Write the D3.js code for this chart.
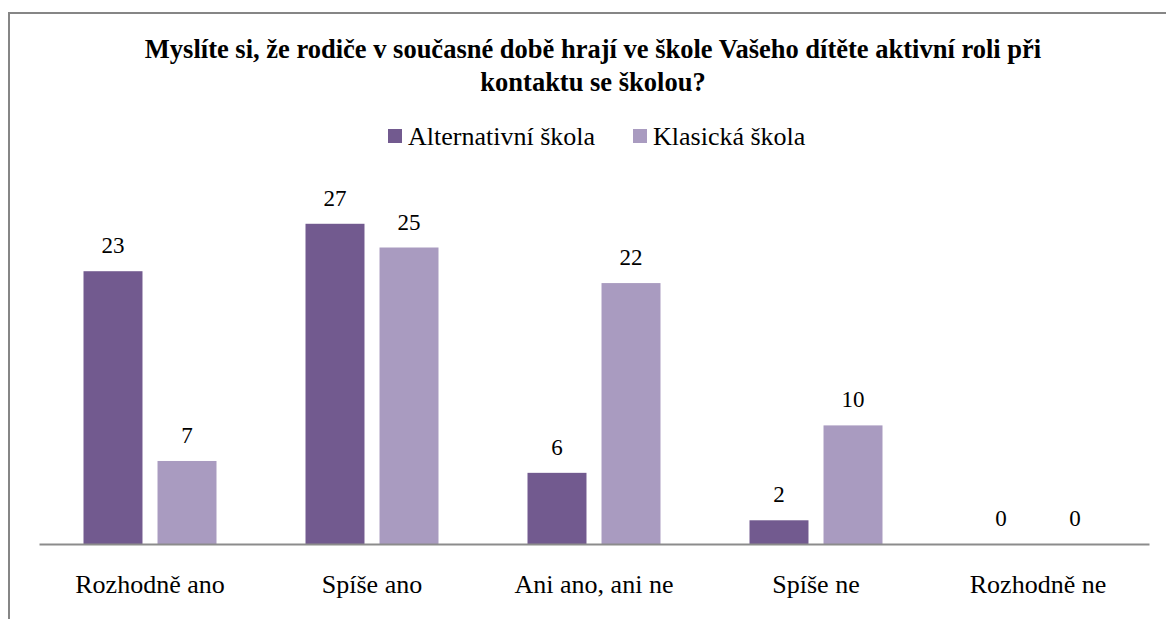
<!DOCTYPE html>
<html>
<head>
<meta charset="utf-8">
<script src="https://cdn.jsdelivr.net/npm/d3@7"></script>
<style>
  html, body { margin: 0; padding: 0; background: #fff; }
  svg { display: block; }
  text { font-family: "Liberation Serif", "Times New Roman", serif; fill: #000; }
</style>
</head>
<body>
<svg id="chart" width="1166" height="619"></svg>
<script>
const categories = ["Rozhodně ano", "Spíše ano", "Ani ano, ani ne", "Spíše ne", "Rozhodně ne"];
const seriesNames = ["Alternativní škola", "Klasická škola"];
const alternativni = [23, 27, 6, 2, 0];
const klasicka = [7, 25, 22, 10, 0];
const titleLines = ["Myslíte si, že rodiče v současné době hrají ve škole Vašeho dítěte aktivní roli při", "kontaktu se školou?"];
const colors = ["#725a8f", "#a99bc0"];

const serif = '"Liberation Serif", "Times New Roman", serif';
const svg = d3.select("#chart");

// outer frame (extends past right/bottom edges as in reference)
svg.append("rect")
  .attr("x", 9).attr("y", 13)
  .attr("width", 1200).attr("height", 700)
  .attr("fill", "none").attr("stroke", "#868686").attr("stroke-width", 2);

const plotLeft = 39, plotRight = 1149, baseY = 544, topY = 188.2;

const x0 = d3.scaleBand().domain(categories).range([plotLeft, plotRight]).paddingInner(0).paddingOuter(0);
const x1 = d3.scaleBand().domain(seriesNames).range([44.5, x0.bandwidth() - 44.5]).paddingInner(0.203).paddingOuter(0);
const y = d3.scaleLinear().domain([0, 30]).range([baseY, topY]);

const seriesData = [alternativni, klasicka];

const groups = svg.append("g").selectAll("g")
  .data(categories)
  .join("g")
  .attr("transform", d => `translate(${x0(d)},0)`);

groups.selectAll("rect")
  .data((c, i) => seriesNames.map((s, j) => ({ s, j, v: seriesData[j][i] })))
  .join("rect")
  .attr("x", d => x1(d.s))
  .attr("width", x1.bandwidth())
  .attr("y", d => y(d.v))
  .attr("height", d => y(0) - y(d.v))
  .attr("fill", d => colors[d.j]);

groups.selectAll("text.val")
  .data((c, i) => seriesNames.map((s, j) => ({ s, j, v: seriesData[j][i] })))
  .join("text")
  .attr("class", "val")
  .attr("x", d => x1(d.s) + x1.bandwidth() / 2)
  .attr("y", d => y(d.v) - 18)
  .attr("text-anchor", "middle")
  .style("font-family", serif)
  .style("font-size", "23px")
  .text(d => d.v);

// x axis
const xAxis = d3.axisBottom(x0).tickSize(0).tickPadding(0);
const axisG = svg.append("g").attr("transform", `translate(0,${baseY})`).call(xAxis);
axisG.attr("font-family", null).attr("font-size", null);
axisG.select(".domain").attr("stroke", "#8c8c8c").attr("stroke-width", 2);
axisG.selectAll(".tick text")
  .attr("y", 49).attr("dy", 0)
  .style("font-family", serif)
  .style("font-size", "26px")
  .attr("fill", "#000");

// title
const title = svg.append("text")
  .attr("text-anchor", "middle")
  .style("font-family", serif)
  .style("font-size", "26.5px")
  .style("font-weight", "bold");
title.selectAll("tspan")
  .data(titleLines)
  .join("tspan")
  .attr("x", 593)
  .attr("y", (d, i) => 58 + i * 32.5)
  .text(d => d);

// legend
const legendX = [388, 633];
const leg = svg.append("g").selectAll("g")
  .data(seriesNames)
  .join("g")
  .attr("transform", (d, i) => `translate(${legendX[i]},129)`);
leg.append("rect").attr("width", 14).attr("height", 14).attr("fill", (d, i) => colors[i]);
leg.append("text")
  .attr("x", 20).attr("y", 16)
  .style("font-family", serif)
  .style("font-size", "26px")
  .text(d => d);
</script>
</body>
</html>
